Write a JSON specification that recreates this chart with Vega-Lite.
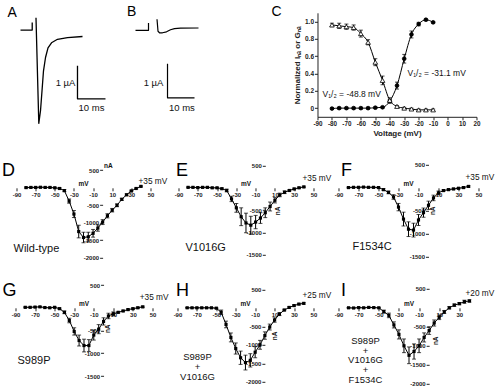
{
"$schema":"https://vega.github.io/schema/vega-lite/v6.json",
"padding":{"left":1.5,"top":3.8,"right":0,"bottom":0},
"background":"white",
"config":{
 "font":"Liberation Sans",
 "view":{"stroke":null},
 "axis":{"grid":false,"labelFont":"Liberation Sans","labelFontWeight":"bold","labelFontSize":6,"labelColor":"#222","tickColor":"#222","domainColor":"#222","tickSize":3,"labelPadding":1,"labelFlush":false,"labelOverlap":false,"titleFont":"Liberation Sans","labelExpr":"'' + datum.value"},
 "text":{"font":"Liberation Sans","color":"#111"}
},
"datasets":{
 "A":[{"s":"step","o":1,"t":5.36,"i":0.203},{"s":"step","o":2,"t":9.54,"i":0.203},{"s":"step","o":3,"t":9.54,"i":0.433},
  {"s":"trace","o":1,"t":10.89,"i":0.576},{"s":"trace","o":2,"t":11.89,"i":-2.621},{"s":"trace","o":3,"t":12.5,"i":-2.242},{"s":"trace","o":4,"t":13.04,"i":-1.636},{"s":"trace","o":5,"t":13.57,"i":-1.03},{"s":"trace","o":6,"t":14.29,"i":-0.627},{"s":"trace","o":7,"t":15.18,"i":-0.333},{"s":"trace","o":8,"t":16.43,"i":-0.182},{"s":"trace","o":9,"t":18.57,"i":-0.076},{"s":"trace","o":10,"t":22.14,"i":-0.024},{"s":"trace","o":11,"t":27.5,"i":0.009},
  {"s":"bar","o":1,"t":25.71,"i":-0.879},{"s":"bar","o":2,"t":25.71,"i":-1.879},{"s":"bar","o":3,"t":35.71,"i":-1.879}],
 "B":[{"s":"step","o":1,"t":3.7,"i":-0.065},{"s":"step","o":2,"t":8.52,"i":-0.065},{"s":"step","o":3,"t":8.52,"i":0.147},
  {"s":"trace","o":1,"t":11.67,"i":0.259},{"s":"trace","o":2,"t":12.04,"i":-0.094},{"s":"trace","o":3,"t":12.59,"i":-0.138},{"s":"trace","o":4,"t":13.7,"i":-0.138},{"s":"trace","o":5,"t":15.19,"i":-0.109},{"s":"trace","o":6,"t":16.67,"i":-0.05},{"s":"trace","o":7,"t":18.15,"i":-0.015},{"s":"trace","o":8,"t":20.37,"i":0},{"s":"trace","o":9,"t":27.04,"i":0.003},
  {"s":"bar","o":1,"t":15.56,"i":-1.05},{"s":"bar","o":2,"t":15.56,"i":-2.05},{"s":"bar","o":3,"t":25.56,"i":-2.05}],
 "C":[{"v":-80,"s":"act","y":-0.005,"e":0.01},{"v":-75,"s":"act","y":0,"e":0.01},{"v":-70,"s":"act","y":0,"e":0.01},{"v":-65,"s":"act","y":0,"e":0.01},{"v":-60,"s":"act","y":0,"e":0.01},{"v":-55,"s":"act","y":0,"e":0.01},{"v":-50,"s":"act","y":0.005,"e":0.01},{"v":-45,"s":"act","y":0.01,"e":0.01},{"v":-40,"s":"act","y":0.08,"e":0.02},{"v":-35,"s":"act","y":0.26,"e":0.04},{"v":-30,"s":"act","y":0.57,"e":0.05},{"v":-25,"s":"act","y":0.85,"e":0.04},{"v":-20,"s":"act","y":0.97,"e":0.02},{"v":-15,"s":"act","y":1.02,"e":0.01},{"v":-10,"s":"act","y":0.99,"e":0.01},
  {"v":-80,"s":"inact","y":0.96,"e":0.02},{"v":-75,"s":"inact","y":0.95,"e":0.03},{"v":-70,"s":"inact","y":0.94,"e":0.03},{"v":-65,"s":"inact","y":0.93,"e":0.03},{"v":-60,"s":"inact","y":0.86,"e":0.04},{"v":-55,"s":"inact","y":0.76,"e":0.03},{"v":-50,"s":"inact","y":0.53,"e":0.04},{"v":-45,"s":"inact","y":0.32,"e":0.05},{"v":-40,"s":"inact","y":0.09,"e":0.03},{"v":-35,"s":"inact","y":0.02,"e":0.01},{"v":-30,"s":"inact","y":0,"e":0.01},{"v":-25,"s":"inact","y":-0.01,"e":0.01},{"v":-20,"s":"inact","y":-0.02,"e":0.01},{"v":-15,"s":"inact","y":-0.02,"e":0.01},{"v":-10,"s":"inact","y":-0.02,"e":0.01}],
 "D":[{"v":-80,"i":5,"e":15},{"v":-75,"i":10,"e":15},{"v":-70,"i":10,"e":15},{"v":-65,"i":15,"e":15},{"v":-60,"i":10,"e":15},{"v":-55,"i":10,"e":15},{"v":-50,"i":0,"e":15},{"v":-45,"i":-20,"e":20},{"v":-40,"i":-80,"e":30},{"v":-35,"i":-380,"e":60},{"v":-30,"i":-750,"e":100},{"v":-25,"i":-1250,"e":180},{"v":-20,"i":-1420,"e":150},{"v":-15,"i":-1400,"e":130},{"v":-10,"i":-1300,"e":110},{"v":-5,"i":-1150,"e":90},{"v":0,"i":-980,"e":70},{"v":5,"i":-800,"e":60},{"v":10,"i":-640,"e":50},{"v":15,"i":-500,"e":40},{"v":20,"i":-330,"e":30},{"v":25,"i":-200,"e":25},{"v":30,"i":-90,"e":20},{"v":35,"i":-20,"e":15},{"v":40,"i":40,"e":15}],
 "E":[{"v":-80,"i":10,"e":10},{"v":-75,"i":10,"e":10},{"v":-70,"i":5,"e":10},{"v":-65,"i":10,"e":10},{"v":-60,"i":10,"e":10},{"v":-55,"i":0,"e":10},{"v":-50,"i":0,"e":10},{"v":-45,"i":-20,"e":15},{"v":-40,"i":-60,"e":30},{"v":-35,"i":-250,"e":60},{"v":-30,"i":-450,"e":100},{"v":-25,"i":-650,"e":200},{"v":-20,"i":-790,"e":220},{"v":-15,"i":-840,"e":200},{"v":-10,"i":-770,"e":150},{"v":-5,"i":-680,"e":120},{"v":0,"i":-560,"e":110},{"v":5,"i":-420,"e":100},{"v":10,"i":-280,"e":60},{"v":15,"i":-160,"e":40},{"v":20,"i":-100,"e":30},{"v":25,"i":-60,"e":15},{"v":30,"i":-25,"e":15},{"v":35,"i":0,"e":15},{"v":40,"i":20,"e":15}],
 "F":[{"v":-80,"i":5,"e":10},{"v":-75,"i":10,"e":10},{"v":-70,"i":10,"e":10},{"v":-65,"i":15,"e":10},{"v":-60,"i":10,"e":10},{"v":-55,"i":10,"e":10},{"v":-50,"i":5,"e":10},{"v":-45,"i":-40,"e":20},{"v":-40,"i":-100,"e":30},{"v":-35,"i":-200,"e":50},{"v":-30,"i":-420,"e":80},{"v":-25,"i":-680,"e":150},{"v":-20,"i":-900,"e":160},{"v":-15,"i":-920,"e":150},{"v":-10,"i":-700,"e":120},{"v":-5,"i":-540,"e":100},{"v":0,"i":-380,"e":90},{"v":5,"i":-220,"e":60},{"v":10,"i":-110,"e":40},{"v":15,"i":-60,"e":15},{"v":20,"i":-40,"e":15},{"v":25,"i":-25,"e":15},{"v":30,"i":-10,"e":15},{"v":35,"i":5,"e":15},{"v":40,"i":30,"e":15}],
 "G":[{"v":-80,"i":10,"e":10},{"v":-75,"i":10,"e":10},{"v":-70,"i":15,"e":10},{"v":-65,"i":20,"e":10},{"v":-60,"i":5,"e":10},{"v":-55,"i":0,"e":10},{"v":-50,"i":10,"e":10},{"v":-45,"i":-20,"e":15},{"v":-40,"i":-100,"e":30},{"v":-35,"i":-280,"e":50},{"v":-30,"i":-520,"e":80},{"v":-25,"i":-720,"e":120},{"v":-20,"i":-830,"e":140},{"v":-15,"i":-830,"e":130},{"v":-10,"i":-600,"e":110},{"v":-5,"i":-470,"e":100},{"v":0,"i":-300,"e":80},{"v":5,"i":-180,"e":60},{"v":10,"i":-130,"e":40},{"v":15,"i":-100,"e":15},{"v":20,"i":-70,"e":15},{"v":25,"i":-40,"e":15},{"v":30,"i":-20,"e":15},{"v":35,"i":0,"e":15},{"v":40,"i":20,"e":15}],
 "H":[{"v":-80,"i":0,"e":10},{"v":-75,"i":0,"e":10},{"v":-70,"i":0,"e":10},{"v":-65,"i":0,"e":10},{"v":-60,"i":0,"e":10},{"v":-55,"i":0,"e":10},{"v":-50,"i":-10,"e":10},{"v":-45,"i":-120,"e":60},{"v":-40,"i":-450,"e":90},{"v":-35,"i":-800,"e":120},{"v":-30,"i":-1100,"e":150},{"v":-25,"i":-1350,"e":180},{"v":-20,"i":-1480,"e":200},{"v":-15,"i":-1420,"e":180},{"v":-10,"i":-1200,"e":150},{"v":-5,"i":-1000,"e":120},{"v":0,"i":-750,"e":100},{"v":5,"i":-520,"e":80},{"v":10,"i":-330,"e":60},{"v":15,"i":-170,"e":40},{"v":20,"i":-60,"e":20},{"v":25,"i":10,"e":20},{"v":30,"i":60,"e":20},{"v":35,"i":100,"e":20},{"v":40,"i":120,"e":20}],
 "I":[{"v":-80,"i":0,"e":10},{"v":-75,"i":-5,"e":10},{"v":-70,"i":5,"e":10},{"v":-65,"i":0,"e":10},{"v":-60,"i":10,"e":10},{"v":-55,"i":5,"e":10},{"v":-50,"i":0,"e":10},{"v":-45,"i":-100,"e":40},{"v":-40,"i":-200,"e":60},{"v":-35,"i":-450,"e":80},{"v":-30,"i":-700,"e":120},{"v":-25,"i":-1000,"e":180},{"v":-20,"i":-1250,"e":220},{"v":-15,"i":-1150,"e":200},{"v":-10,"i":-1000,"e":180},{"v":-5,"i":-780,"e":120},{"v":0,"i":-600,"e":100},{"v":5,"i":-400,"e":80},{"v":10,"i":-250,"e":60},{"v":15,"i":-110,"e":40},{"v":20,"i":0,"e":30},{"v":25,"i":70,"e":30},{"v":30,"i":110,"e":30},{"v":35,"i":160,"e":40},{"v":40,"i":180,"e":30}]
},
"columns":3,
"bounds":"flush",
"spacing":0,
"align":"each",
"concat":[
 {"width":167,"height":148,
  "layer":[
   {"data":{"name":"A"},"mark":{"type":"line","color":"black","strokeWidth":1.3,"strokeJoin":"round"},
    "encoding":{"x":{"field":"t","type":"quantitative","scale":{"domain":[0,59.64],"nice":false,"zero":false},"axis":null},"y":{"field":"i","type":"quantitative","scale":{"domain":[-3.7576,0.7273],"nice":false,"zero":false},"axis":null},"detail":{"field":"s"},"order":{"field":"o"}}},
   {"data":{"values":[{"t":21.43,"i":-1.394,"l":"1 µA"},{"t":30.71,"i":-2.152,"l":"10 ms"}]},"mark":{"type":"text","fontSize":9.5,"baseline":"middle","color":"#111"},
    "encoding":{"x":{"field":"t","type":"quantitative","axis":null},"y":{"field":"i","type":"quantitative","axis":null},"text":{"field":"l"}}},
   {"data":{"values":[{"t":0.71,"i":0.606,"l":"A"}]},"mark":{"type":"text","fontSize":14,"align":"left","baseline":"alphabetic","color":"black"},
    "encoding":{"x":{"field":"t","type":"quantitative","axis":null},"y":{"field":"i","type":"quantitative","axis":null},"text":{"field":"l"}}}
  ]},
 {"width":145,"height":148,
  "layer":[
   {"data":{"name":"B"},"mark":{"type":"line","color":"black","strokeWidth":1.2,"strokeJoin":"round"},
    "encoding":{"x":{"field":"t","type":"quantitative","scale":{"domain":[17.407,71.11],"nice":false,"zero":false},"axis":null},"y":{"field":"i","type":"quantitative","scale":{"domain":[-3.903,0.45],"nice":false,"zero":false},"axis":null},"detail":{"field":"s"},"order":{"field":"o"}}},
   {"data":{"values":[{"t":10.37,"i":-1.609,"l":"1 µA"},{"t":20.9,"i":-2.344,"l":"10 ms"}]},"mark":{"type":"text","fontSize":9.5,"baseline":"middle","color":"#111"},
    "encoding":{"x":{"field":"t","type":"quantitative","axis":null},"y":{"field":"i","type":"quantitative","axis":null},"text":{"field":"l"}}},
   {"data":{"values":[{"t":0.56,"i":0.362,"l":"B"}]},"mark":{"type":"text","fontSize":14,"align":"left","baseline":"alphabetic","color":"black"},
    "encoding":{"x":{"field":"t","type":"quantitative","axis":null},"y":{"field":"i","type":"quantitative","axis":null},"text":{"field":"l"}}}
  ]},
 {"width":159,"height":104,
  "data":{"name":"C"},
  "encoding":{
   "x":{"field":"v","type":"quantitative","scale":{"domain":[-90,20],"nice":false,"zero":false},"axis":{"title":"Voltage (mV)","values":[-90,-80,-70,-60,-50,-40,-30,-20,-10,0,10,20],"labelFontSize":6.3,"titleFontSize":8,"titleFontWeight":"bold","titlePadding":2,"titleColor":"#222"}},
   "y":{"field":"y","type":"quantitative","scale":{"domain":[-0.1,1.1],"nice":false,"zero":false},"axis":{"title":"Normalized Iₙₐ or Gₙₐ","values":[0,0.2,0.4,0.6,0.8,1],"labelExpr":"datum.value == 0 ? '0' : format(datum.value, '.1f')","labelFontSize":6.5,"titleFontSize":8,"titleFontWeight":"bold","titlePadding":3,"titleColor":"#222"}}
  },
  "layer":[
   {"mark":{"type":"line","color":"black","strokeWidth":1,"interpolate":"monotone"},"encoding":{"detail":{"field":"s"}}},
   {"mark":{"type":"errorbar","color":"black","ticks":{"size":4}},"encoding":{"yError":{"field":"e"}}},
   {"mark":{"type":"point","opacity":1,"stroke":"black","strokeWidth":0.8},
    "encoding":{"shape":{"field":"s","scale":{"domain":["act","inact"],"range":["circle","triangle-up"]},"legend":null},"fill":{"field":"s","scale":{"domain":["act","inact"],"range":["black","white"]},"legend":null},"size":{"field":"s","scale":{"domain":["act","inact"],"range":[14,22]},"legend":null}}},
   {"data":{"values":[{"x":-27.7,"y":0.41,"t":"V₁/₂ = -31.1 mV"},{"x":-86.5,"y":0.165,"t":"V₁/₂ = -48.8 mV"}]},"mark":{"type":"text","align":"left","baseline":"middle","fontSize":8.5,"color":"#111"},
    "encoding":{"x":{"field":"x","type":"quantitative"},"y":{"field":"y","type":"quantitative"},"text":{"field":"t"}}},
   {"data":{"values":[{"x":-121.8,"y":1.065,"t":"C"}]},"mark":{"type":"text","align":"left","baseline":"alphabetic","fontSize":14,"color":"black"},
    "encoding":{"x":{"field":"x","type":"quantitative"},"y":{"field":"y","type":"quantitative"},"text":{"field":"t"}}}
  ]},
 {"width":167,"height":120,
  "data":{"name":"D"},
  "encoding":{
   "x":{"field":"v","type":"quantitative","scale":{"domain":[-101.5,73],"nice":false,"zero":false},"axis":{"title":null,"offset":-93,"values":[-90,-70,-50,-30,-10,10,30,50],"domain":false}},
   "y":{"field":"i","type":"quantitative","scale":{"domain":[-2657,771],"nice":false,"zero":false},"axis":{"title":null,"offset":-97.1,"values":[500,-500,-1000,-1500,-2000],"domain":false}}
  },
  "layer":[
   {"data":{"values":[{}]},"mark":{"type":"rule","color":"#999","strokeWidth":1.5},"encoding":{"x":{"datum":-90},"x2":{"datum":55},"y":{"datum":0}}},
   {"data":{"values":[{}]},"mark":{"type":"rule","color":"#222","strokeWidth":1},"encoding":{"x":{"datum":0},"y":{"datum":-2000},"y2":{"datum":520}}},
   {"data":{"values":[{}]},"mark":{"type":"rule","color":"#333","strokeDash":[2,2]},"encoding":{"x":{"datum":35},"y":{"datum":686},"y2":{"datum":-2086}}},
   {"mark":{"type":"errorbar","color":"black","ticks":{"size":4}},"encoding":{"yError":{"field":"e"}}},
   {"mark":{"type":"line","color":"black","strokeWidth":1}},
   {"mark":{"type":"point","shape":"square","filled":true,"color":"black","size":10,"opacity":1}},
   {"data":{"values":[{"x":-93.1,"y":-1829,"t":"Wild-type"}]},"mark":{"type":"text","align":"left","baseline":"alphabetic","fontSize":11,"color":"#111"},"encoding":{"x":{"field":"x","type":"quantitative"},"y":{"field":"y","type":"quantitative"},"text":{"field":"t"}}},
   {"data":{"values":[{"x":37.5,"y":171,"t":"+35 mV"}]},"mark":{"type":"text","align":"left","baseline":"middle","fontSize":8.3,"color":"#111"},"encoding":{"x":{"field":"x","type":"quantitative"},"y":{"field":"y","type":"quantitative"},"text":{"field":"t"}}},
   {"data":{"values":[{"x":-20,"y":0,"t":"mV"}]},"mark":{"type":"text","align":"center","baseline":"bottom","dy":-1,"fontSize":6.5,"fontWeight":"bold","color":"#111"},"encoding":{"x":{"field":"x","type":"quantitative"},"y":{"field":"y","type":"quantitative"},"text":{"field":"t"}}},
   {"data":{"values":[{"x":1.5,"y":629,"t":"nA"}]},"mark":{"type":"text","align":"left","baseline":"middle","fontSize":6.5,"fontWeight":"bold","color":"#111"},"encoding":{"x":{"field":"x","type":"quantitative"},"y":{"field":"y","type":"quantitative"},"text":{"field":"t"}}},
   {"data":{"values":[{"x":-105.2,"y":343,"t":"D"}]},"mark":{"type":"text","align":"left","baseline":"alphabetic","fontSize":18,"color":"black"},"encoding":{"x":{"field":"x","type":"quantitative"},"y":{"field":"y","type":"quantitative"},"text":{"field":"t"}}}
  ]},
 {"width":145,"height":120,
  "data":{"name":"E"},
  "encoding":{
   "x":{"field":"v","type":"quantitative","scale":{"domain":[-96.2,54.17],"nice":false,"zero":false},"axis":{"title":null,"offset":-93,"values":[-90,-70,-50,-30,-10,10,30,50],"domain":false}},
   "y":{"field":"i","type":"quantitative","scale":{"domain":[-2090,607],"nice":false,"zero":false},"axis":{"title":null,"offset":-92.8,"values":[500,-500,-1000,-1500],"domain":false}}
  },
  "layer":[
   {"data":{"values":[{}]},"mark":{"type":"rule","color":"#222","strokeWidth":1},"encoding":{"x":{"datum":-90},"x2":{"datum":55},"y":{"datum":0}}},
   {"data":{"values":[{}]},"mark":{"type":"rule","color":"#222","strokeWidth":1},"encoding":{"x":{"datum":0},"y":{"datum":-1500},"y2":{"datum":520}}},
   {"data":{"values":[{}]},"mark":{"type":"rule","color":"#333","strokeDash":[2,2]},"encoding":{"x":{"datum":35},"y":{"datum":539},"y2":{"datum":-1596}}},
   {"mark":{"type":"errorbar","color":"black","ticks":{"size":4}},"encoding":{"yError":{"field":"e"}}},
   {"mark":{"type":"line","color":"black","strokeWidth":1}},
   {"mark":{"type":"point","shape":"square","filled":true,"color":"black","size":10,"opacity":1}},
   {"data":{"values":[{"x":-82.7,"y":-1416,"t":"V1016G"}]},"mark":{"type":"text","align":"left","baseline":"alphabetic","fontSize":11,"color":"#111"},"encoding":{"x":{"field":"x","type":"quantitative"},"y":{"field":"y","type":"quantitative"},"text":{"field":"t"}}},
   {"data":{"values":[{"x":38.6,"y":202,"t":"+35 mV"}]},"mark":{"type":"text","align":"left","baseline":"middle","fontSize":8.3,"color":"#111"},"encoding":{"x":{"field":"x","type":"quantitative"},"y":{"field":"y","type":"quantitative"},"text":{"field":"t"}}},
   {"data":{"values":[{"x":-20,"y":0,"t":"mV"}]},"mark":{"type":"text","align":"center","baseline":"bottom","dy":-1,"fontSize":6.5,"fontWeight":"bold","color":"#111"},"encoding":{"x":{"field":"x","type":"quantitative"},"y":{"field":"y","type":"quantitative"},"text":{"field":"t"}}},
   {"data":{"values":[{"x":13.7,"y":-517,"t":"nA"}]},"mark":{"type":"text","align":"center","baseline":"middle","angle":270,"fontSize":6.5,"fontWeight":"bold","color":"#111"},"encoding":{"x":{"field":"x","type":"quantitative"},"y":{"field":"y","type":"quantitative"},"text":{"field":"t"}}},
   {"data":{"values":[{"x":-92.57,"y":270,"t":"E"}]},"mark":{"type":"text","align":"left","baseline":"alphabetic","fontSize":18,"color":"black"},"encoding":{"x":{"field":"x","type":"quantitative"},"y":{"field":"y","type":"quantitative"},"text":{"field":"t"}}}
  ]},
 {"width":161,"height":120,
  "data":{"name":"F"},
  "encoding":{
   "x":{"field":"v","type":"quantitative","scale":{"domain":[-111,50],"nice":false,"zero":false},"axis":{"title":null,"offset":-93,"values":[-90,-70,-50,-30,-10,10,30,50],"domain":false}},
   "y":{"field":"i","type":"quantitative","scale":{"domain":[-2022,587],"nice":false,"zero":false},"axis":{"title":null,"offset":-111,"values":[500,-500,-1000,-1500],"domain":false}}
  },
  "layer":[
   {"data":{"values":[{}]},"mark":{"type":"rule","color":"#222","strokeWidth":1},"encoding":{"x":{"datum":-90},"x2":{"datum":55},"y":{"datum":0}}},
   {"data":{"values":[{}]},"mark":{"type":"rule","color":"#888","strokeWidth":1},"encoding":{"x":{"datum":0},"y":{"datum":-1500},"y2":{"datum":520}}},
   {"data":{"values":[{}]},"mark":{"type":"rule","color":"#333","strokeDash":[2,2]},"encoding":{"x":{"datum":35},"y":{"datum":522},"y2":{"datum":-1543}}},
   {"mark":{"type":"errorbar","color":"black","ticks":{"size":4}},"encoding":{"yError":{"field":"e"}}},
   {"mark":{"type":"line","color":"black","strokeWidth":1}},
   {"mark":{"type":"point","shape":"square","filled":true,"color":"black","size":10,"opacity":1}},
   {"data":{"values":[{"x":-76,"y":-1348,"t":"F1534C"}]},"mark":{"type":"text","align":"left","baseline":"alphabetic","fontSize":11,"color":"#111"},"encoding":{"x":{"field":"x","type":"quantitative"},"y":{"field":"y","type":"quantitative"},"text":{"field":"t"}}},
   {"data":{"values":[{"x":37,"y":217,"t":"+35 mV"}]},"mark":{"type":"text","align":"left","baseline":"middle","fontSize":8.3,"color":"#111"},"encoding":{"x":{"field":"x","type":"quantitative"},"y":{"field":"y","type":"quantitative"},"text":{"field":"t"}}},
   {"data":{"values":[{"x":-20,"y":0,"t":"mV"}]},"mark":{"type":"text","align":"center","baseline":"bottom","dy":-1,"fontSize":6.5,"fontWeight":"bold","color":"#111"},"encoding":{"x":{"field":"x","type":"quantitative"},"y":{"field":"y","type":"quantitative"},"text":{"field":"t"}}},
   {"data":{"values":[{"x":5,"y":-500,"t":"nA"}]},"mark":{"type":"text","align":"center","baseline":"middle","angle":270,"fontSize":6.5,"fontWeight":"bold","color":"#111"},"encoding":{"x":{"field":"x","type":"quantitative"},"y":{"field":"y","type":"quantitative"},"text":{"field":"t"}}},
   {"data":{"values":[{"x":-87.5,"y":261,"t":"F"}]},"mark":{"type":"text","align":"left","baseline":"alphabetic","fontSize":18,"color":"black"},"encoding":{"x":{"field":"x","type":"quantitative"},"y":{"field":"y","type":"quantitative"},"text":{"field":"t"}}}
  ]},
 {"width":167,"height":110,
  "data":{"name":"G"},
  "encoding":{
   "x":{"field":"v","type":"quantitative","scale":{"domain":[-100.2,70.45],"nice":false,"zero":false},"axis":{"title":null,"offset":-83,"values":[-90,-70,-50,-30,-10,10,30,50],"domain":false}},
   "y":{"field":"i","type":"quantitative","scale":{"domain":[-1825,593],"nice":false,"zero":false},"axis":{"title":null,"offset":-98.06,"values":[500,-500,-1000,-1500],"domain":false}}
  },
  "layer":[
   {"data":{"values":[{}]},"mark":{"type":"rule","color":"#222","strokeWidth":1},"encoding":{"x":{"datum":-90},"x2":{"datum":55},"y":{"datum":0}}},
   {"data":{"values":[{}]},"mark":{"type":"rule","color":"#222","strokeWidth":1.2},"encoding":{"x":{"datum":0},"y":{"datum":-1500},"y2":{"datum":520}}},
   {"data":{"values":[{}]},"mark":{"type":"rule","color":"#333","strokeDash":[2,2]},"encoding":{"x":{"datum":35},"y":{"datum":527},"y2":{"datum":-1780}}},
   {"mark":{"type":"errorbar","color":"black","ticks":{"size":4}},"encoding":{"yError":{"field":"e"}}},
   {"mark":{"type":"line","color":"black","strokeWidth":1}},
   {"mark":{"type":"point","shape":"square","filled":true,"color":"black","size":10,"opacity":1}},
   {"data":{"values":[{"x":-87.9,"y":-1231,"t":"S989P"}]},"mark":{"type":"text","align":"left","baseline":"alphabetic","fontSize":11,"color":"#111"},"encoding":{"x":{"field":"x","type":"quantitative"},"y":{"field":"y","type":"quantitative"},"text":{"field":"t"}}},
   {"data":{"values":[{"x":37,"y":220,"t":"+35 mV"}]},"mark":{"type":"text","align":"left","baseline":"middle","fontSize":8.3,"color":"#111"},"encoding":{"x":{"field":"x","type":"quantitative"},"y":{"field":"y","type":"quantitative"},"text":{"field":"t"}}},
   {"data":{"values":[{"x":-20,"y":0,"t":"mV"}]},"mark":{"type":"text","align":"center","baseline":"bottom","dy":-1,"fontSize":6.5,"fontWeight":"bold","color":"#111"},"encoding":{"x":{"field":"x","type":"quantitative"},"y":{"field":"y","type":"quantitative"},"text":{"field":"t"}}},
   {"data":{"values":[{"x":5,"y":-462,"t":"nA"}]},"mark":{"type":"text","align":"center","baseline":"middle","angle":270,"fontSize":6.5,"fontWeight":"bold","color":"#111"},"encoding":{"x":{"field":"x","type":"quantitative"},"y":{"field":"y","type":"quantitative"},"text":{"field":"t"}}},
   {"data":{"values":[{"x":-103.3,"y":264,"t":"G"}]},"mark":{"type":"text","align":"left","baseline":"alphabetic","fontSize":18,"color":"black"},"encoding":{"x":{"field":"x","type":"quantitative"},"y":{"field":"y","type":"quantitative"},"text":{"field":"t"}}}
  ]},
 {"width":145,"height":110,
  "data":{"name":"H"},
  "encoding":{
   "x":{"field":"v","type":"quantitative","scale":{"domain":[-95.1,54.17],"nice":false,"zero":false},"axis":{"title":null,"offset":-83,"values":[-90,-70,-50,-30,-10,10,30,50],"domain":false}},
   "y":{"field":"i","type":"quantitative","scale":{"domain":[-2243,730],"nice":false,"zero":false},"axis":{"title":null,"offset":-92.38,"values":[500,-500,-1000,-1500,-2000],"domain":false}}
  },
  "layer":[
   {"data":{"values":[{}]},"mark":{"type":"rule","color":"#222","strokeWidth":1.3},"encoding":{"x":{"datum":-90},"x2":{"datum":55},"y":{"datum":0}}},
   {"data":{"values":[{}]},"mark":{"type":"rule","color":"#888","strokeWidth":1},"encoding":{"x":{"datum":0},"y":{"datum":-2000},"y2":{"datum":520}}},
   {"data":{"values":[{}]},"mark":{"type":"rule","color":"#555","strokeDash":[2,2]},"encoding":{"x":{"datum":25},"y":{"datum":730},"y2":{"datum":-2243}}},
   {"mark":{"type":"errorbar","color":"black","ticks":{"size":4}},"encoding":{"yError":{"field":"e"}}},
   {"mark":{"type":"line","color":"black","strokeWidth":1}},
   {"mark":{"type":"point","shape":"square","filled":true,"color":"black","size":10,"opacity":1}},
   {"data":{"values":[{"x":-69.4,"y":-1420,"t":"S989P\n+\nV1016G"}]},"mark":{"type":"text","align":"center","baseline":"alphabetic","fontSize":9.5,"lineBreak":"\n","lineHeight":9.6,"color":"#111"},"encoding":{"x":{"field":"x","type":"quantitative"},"y":{"field":"y","type":"quantitative"},"text":{"field":"t"}}},
   {"data":{"values":[{"x":38.7,"y":324,"t":"+25 mV"}]},"mark":{"type":"text","align":"left","baseline":"middle","fontSize":8.3,"color":"#111"},"encoding":{"x":{"field":"x","type":"quantitative"},"y":{"field":"y","type":"quantitative"},"text":{"field":"t"}}},
   {"data":{"values":[{"x":-20,"y":0,"t":"mV"}]},"mark":{"type":"text","align":"center","baseline":"bottom","dy":-1,"fontSize":6.5,"fontWeight":"bold","color":"#111"},"encoding":{"x":{"field":"x","type":"quantitative"},"y":{"field":"y","type":"quantitative"},"text":{"field":"t"}}},
   {"data":{"values":[{"x":10.9,"y":-757,"t":"nA"}]},"mark":{"type":"text","align":"center","baseline":"middle","angle":270,"fontSize":6.5,"fontWeight":"bold","color":"#111"},"encoding":{"x":{"field":"x","type":"quantitative"},"y":{"field":"y","type":"quantitative"},"text":{"field":"t"}}},
   {"data":{"values":[{"x":-91.5,"y":324,"t":"H"}]},"mark":{"type":"text","align":"left","baseline":"alphabetic","fontSize":18,"color":"black"},"encoding":{"x":{"field":"x","type":"quantitative"},"y":{"field":"y","type":"quantitative"},"text":{"field":"t"}}}
  ]},
 {"width":161,"height":110,
  "data":{"name":"I"},
  "encoding":{
   "x":{"field":"v","type":"quantitative","scale":{"domain":[-110.85,49.0],"nice":false,"zero":false},"axis":{"title":null,"offset":-83,"values":[-90,-70,-50,-30,-10,10,30,50],"domain":false}},
   "y":{"field":"i","type":"quantitative","scale":{"domain":[-2184,710.5],"nice":false,"zero":false},"axis":{"title":null,"offset":-111.64,"values":[500,-500,-1000,-1500,-2000],"domain":false}}
  },
  "layer":[
   {"data":{"values":[{}]},"mark":{"type":"rule","color":"#222","strokeWidth":1},"encoding":{"x":{"datum":-90},"x2":{"datum":55},"y":{"datum":0}}},
   {"data":{"values":[{}]},"mark":{"type":"rule","color":"#222","strokeWidth":1.2},"encoding":{"x":{"datum":0},"y":{"datum":-2000},"y2":{"datum":520}}},
   {"data":{"values":[{}]},"mark":{"type":"rule","color":"#222","strokeDash":[2,1.5],"strokeWidth":1.3},"encoding":{"x":{"datum":20},"y":{"datum":500},"y2":{"datum":-2184}}},
   {"mark":{"type":"errorbar","color":"black","ticks":{"size":4}},"encoding":{"yError":{"field":"e"}}},
   {"mark":{"type":"line","color":"black","strokeWidth":1}},
   {"mark":{"type":"point","shape":"square","filled":true,"color":"black","size":10,"opacity":1}},
   {"data":{"values":[{"x":-63.2,"y":-960,"t":"S989P\n+\nV1016G\n+\nF1534C"}]},"mark":{"type":"text","align":"center","baseline":"alphabetic","fontSize":9.5,"lineBreak":"\n","lineHeight":9.6,"color":"#111"},"encoding":{"x":{"field":"x","type":"quantitative"},"y":{"field":"y","type":"quantitative"},"text":{"field":"t"}}},
   {"data":{"values":[{"x":36.1,"y":368,"t":"+20 mV"}]},"mark":{"type":"text","align":"left","baseline":"middle","fontSize":8.3,"color":"#111"},"encoding":{"x":{"field":"x","type":"quantitative"},"y":{"field":"y","type":"quantitative"},"text":{"field":"t"}}},
   {"data":{"values":[{"x":-20,"y":0,"t":"mV"}]},"mark":{"type":"text","align":"center","baseline":"bottom","dy":-1,"fontSize":6.5,"fontWeight":"bold","color":"#111"},"encoding":{"x":{"field":"x","type":"quantitative"},"y":{"field":"y","type":"quantitative"},"text":{"field":"t"}}},
   {"data":{"values":[{"x":7.3,"y":-868,"t":"nA"}]},"mark":{"type":"text","align":"center","baseline":"middle","angle":270,"fontSize":6.5,"fontWeight":"bold","color":"#111"},"encoding":{"x":{"field":"x","type":"quantitative"},"y":{"field":"y","type":"quantitative"},"text":{"field":"t"}}},
   {"data":{"values":[{"x":-87.5,"y":316,"t":"I"}]},"mark":{"type":"text","align":"left","baseline":"alphabetic","fontSize":18,"color":"black"},"encoding":{"x":{"field":"x","type":"quantitative"},"y":{"field":"y","type":"quantitative"},"text":{"field":"t"}}}
  ]}
]
}
